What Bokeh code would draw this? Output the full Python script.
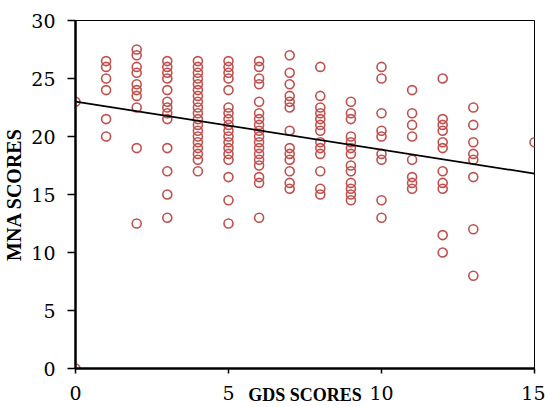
from bokeh.plotting import figure
from bokeh.models import FixedTicker
from bokeh.embed import file_html
from bokeh.resources import INLINE

# GDS score -> MNA scores observed
gds_levels = [0, 1, 2, 3, 4, 5, 6, 7, 8, 9, 10, 11, 12, 13, 15]
mna_by_gds = [
    [23, 0],
    [26.5, 26, 25, 24, 21.5, 20],
    [27.5, 27, 26, 25.5, 24.5, 24, 23.5, 22.5, 19, 12.5],
    [26.5, 26, 25.5, 25, 24, 23, 22.5, 22, 21.5, 19, 17, 15, 13],
    [26.5, 26, 25.5, 25, 24.5, 24, 23.5, 23, 22.5, 22, 21.5, 21, 20.5, 20, 19.5, 19, 18.5, 18, 17],
    [26.5, 26, 25.5, 25, 24, 22.5, 22, 21.5, 21, 20.5, 20, 19.5, 19, 18.5, 18, 16.5, 14.5, 12.5],
    [26.5, 26, 25, 24.5, 23, 22, 21.5, 21, 20.5, 20, 19.5, 19, 18.5, 18, 17.5, 16.5, 16, 13],
    [27, 25.5, 24.5, 23.5, 23, 22.5, 20.5, 19, 18.5, 18, 17, 16, 15.5],
    [26, 23.5, 22.5, 22, 21.5, 21, 20.5, 19.5, 19, 18.5, 17, 15.5, 15],
    [23, 22, 21.5, 20, 19.5, 19, 18.5, 17.5, 17, 16, 15.5, 15, 14.5],
    [26, 25, 22, 20.5, 20, 18.5, 18, 14.5, 13],
    [24, 22, 21, 20, 18, 16.5, 16, 15.5],
    [25, 21.5, 21, 20.5, 19.5, 19, 17, 16, 15.5, 11.5, 10],
    [22.5, 21, 19.5, 18.5, 18, 16.5, 12, 8],
    [19.5],
]

# linear trend line endpoints
trend_x = [0, 15]
trend_y = [23.0, 16.8]

x_ticks = [0, 5, 10, 15]
y_ticks = [0, 5, 10, 15, 20, 25, 30]

xs, ys = [], []
for g, vals in zip(gds_levels, mna_by_gds):
    for v in vals:
        xs.append(g)
        ys.append(v)

p = figure(width=545, height=407, x_range=(0, 15), y_range=(0, 30),
           output_backend="svg", toolbar_location=None,
           min_border_left=73, min_border_top=20, min_border_right=11,
           min_border_bottom=39)
p.background_fill_color = "white"
p.border_fill_color = "white"
p.outline_line_color = "black"
p.outline_line_width = 1
p.xgrid.visible = False
p.ygrid.visible = False

p.scatter(xs, ys, marker="circle", size=9, fill_color=None,
          line_color="#C0504D", line_width=1.6)
p.line(trend_x, trend_y, line_color="black", line_width=1.7)

for ax in (p.xaxis[0], p.yaxis[0]):
    ax.axis_line_color = "black"
    ax.axis_line_width = 2.5
    ax.major_tick_line_color = "black"
    ax.major_tick_line_width = 1.5
    ax.major_tick_in = 0
    ax.minor_tick_line_color = None
    ax.major_label_text_font = "DejaVu Serif"
    ax.major_label_text_font_size = "19px"
    ax.major_label_text_color = "black"
    ax.axis_label_text_font = "Liberation Serif"
    ax.axis_label_text_font_style = "bold"
    ax.axis_label_text_color = "black"

p.xaxis[0].ticker = FixedTicker(ticks=x_ticks)
p.yaxis[0].ticker = FixedTicker(ticks=y_ticks)
p.xaxis[0].major_tick_out = 5
p.yaxis[0].major_tick_out = 8
p.xaxis[0].major_label_standoff = 12
p.yaxis[0].major_label_standoff = 12
p.xaxis[0].axis_label = "GDS SCORES"
p.yaxis[0].axis_label = "MNA SCORES"
p.xaxis[0].axis_label_text_font_size = "18px"
p.yaxis[0].axis_label_text_font_size = "20px"
p.xaxis[0].axis_label_standoff = -18
p.yaxis[0].axis_label_standoff = 3

open("out.html", "w").write(file_html(p, INLINE))
